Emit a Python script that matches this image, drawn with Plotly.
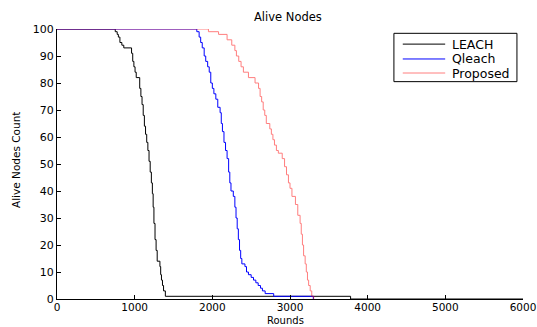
import plotly.graph_objects as go

leach_rounds = [0, 750, 775, 790, 810, 835, 860, 960, 975, 990, 1005, 1020, 1065, 1080, 1095, 1110, 1125, 1140, 1155, 1170, 1185, 1200, 1215, 1228, 1238, 1248, 1262, 1276, 1290, 1325, 1335, 1345, 1358, 1372, 1395, 3780, 6000]
leach_alive = [100, 99, 98, 97, 95, 94, 93, 91, 88, 86, 84, 82, 78, 75, 72, 68, 64, 61, 58, 55, 51, 47, 43, 39, 34, 28, 22, 18, 14, 12, 9, 7, 5, 3, 1, 0, 0]

qleach_rounds = [0, 1800, 1830, 1850, 1870, 1895, 1915, 1940, 1960, 1980, 2000, 2020, 2045, 2070, 2100, 2115, 2130, 2150, 2170, 2190, 2210, 2225, 2240, 2270, 2290, 2305, 2320, 2335, 2350, 2365, 2380, 2420, 2440, 2465, 2500, 2530, 2560, 2590, 2620, 2645, 2680, 2790, 3300]
qleach_alive = [100, 99, 97, 95, 93, 90, 88, 86, 84, 80, 78, 76, 74, 71, 69, 65, 62, 58, 55, 52, 47, 43, 40, 38, 34, 30, 26, 22, 18, 15, 13, 12, 10, 9, 8, 7, 6, 5, 4, 3, 2, 1, 0]

proposed_rounds = [0, 1950, 2080, 2190, 2250, 2290, 2310, 2340, 2370, 2400, 2465, 2550, 2595, 2615, 2635, 2655, 2675, 2695, 2740, 2760, 2780, 2800, 2825, 2850, 2900, 2930, 2955, 2980, 3000, 3025, 3070, 3100, 3130, 3145, 3160, 3175, 3195, 3210, 3225, 3240, 3260, 3280, 3305]
proposed_alive = [100, 99, 98, 96, 94, 92, 90, 88, 86, 84, 82, 80, 78, 75, 73, 70, 68, 65, 63, 61, 59, 57, 55, 54, 52, 49, 46, 43, 41, 38, 35, 31, 28, 24, 20, 16, 13, 10, 7, 5, 3, 1, 0]

x_ticks = [0, 1000, 2000, 3000, 4000, 5000, 6000]
y_ticks = [0, 10, 20, 30, 40, 50, 60, 70, 80, 90, 100]

series_names = ["LEACH", "Qleach", "Proposed"]
series_colors = ["#000000", "#0000ff", "#ff0000"]
series_opacity = [1.0, 1.0, 0.5]

FONT = "DejaVu Sans, Arial, sans-serif"

fig = go.Figure()
for name, xs, ys, col, op in zip(series_names,
                                 [leach_rounds, qleach_rounds, proposed_rounds],
                                 [leach_alive, qleach_alive, proposed_alive],
                                 series_colors, series_opacity):
    fig.add_trace(go.Scatter(x=xs, y=ys, mode="lines", name=name, opacity=op,
                             line=dict(color=col, width=1, shape="hv"), showlegend=False))

# manual legend (MATLAB-style compact box)
shapes = [dict(type="rect", xref="paper", yref="paper", x0=0.723, x1=0.987, y0=0.805, y1=0.984,
               line=dict(color="black", width=1), fillcolor="white", layer="above")]
annotations = []
leg_y = [0.944, 0.889, 0.837]
for name, col, op, yy in zip(series_names, series_colors, series_opacity, leg_y):
    shapes.append(dict(type="line", xref="paper", yref="paper", x0=0.742, x1=0.833, y0=yy, y1=yy,
                       line=dict(color=col, width=1), opacity=op, layer="above"))
    annotations.append(dict(text=name, xref="paper", yref="paper", x=0.843, y=yy,
                            xanchor="left", yanchor="middle", showarrow=False,
                            font=dict(family=FONT, size=12.5, color="black")))

annotations += [
    dict(text="Alive Nodes", xref="paper", yref="paper", x=0.495, y=(299 - 17) / 270,
         xanchor="center", yanchor="middle", showarrow=False,
         font=dict(family=FONT, size=11.5, color="black")),
    dict(text="Rounds", xref="paper", yref="paper", x=0.49, y=(299 - 328) / 270,
         xanchor="center", yanchor="bottom", showarrow=False,
         font=dict(family=FONT, size=10, color="black")),
    dict(text="Alive Nodes Count", xref="paper", yref="paper", x=(16 - 57) / 466, y=(299 - 160) / 270,
         xanchor="center", yanchor="middle", showarrow=False, textangle=-90,
         font=dict(family=FONT, size=10.5, color="black")),
]

fig.update_layout(
    width=537, height=327,
    margin=dict(l=57, r=14, t=29, b=28),
    paper_bgcolor="white", plot_bgcolor="white",
    font=dict(family=FONT, size=11, color="black"),
    showlegend=False,
    shapes=shapes, annotations=annotations,
)
fig.update_xaxes(range=[0, 6000], tickvals=x_ticks, ticks="inside", ticklen=4, tickcolor="black",
                 showline=True, linecolor="black", linewidth=1, showgrid=False, zeroline=False,
                 automargin=False, ticklabelstandoff=-2, tickfont=dict(family=FONT, size=10.5))
fig.update_yaxes(range=[0, 100], tickvals=y_ticks, ticks="inside", ticklen=4, tickcolor="black",
                 showline=True, linecolor="black", linewidth=1, showgrid=False, zeroline=False,
                 automargin=False, tickfont=dict(family=FONT, size=11))

fig.write_html("out.html")
